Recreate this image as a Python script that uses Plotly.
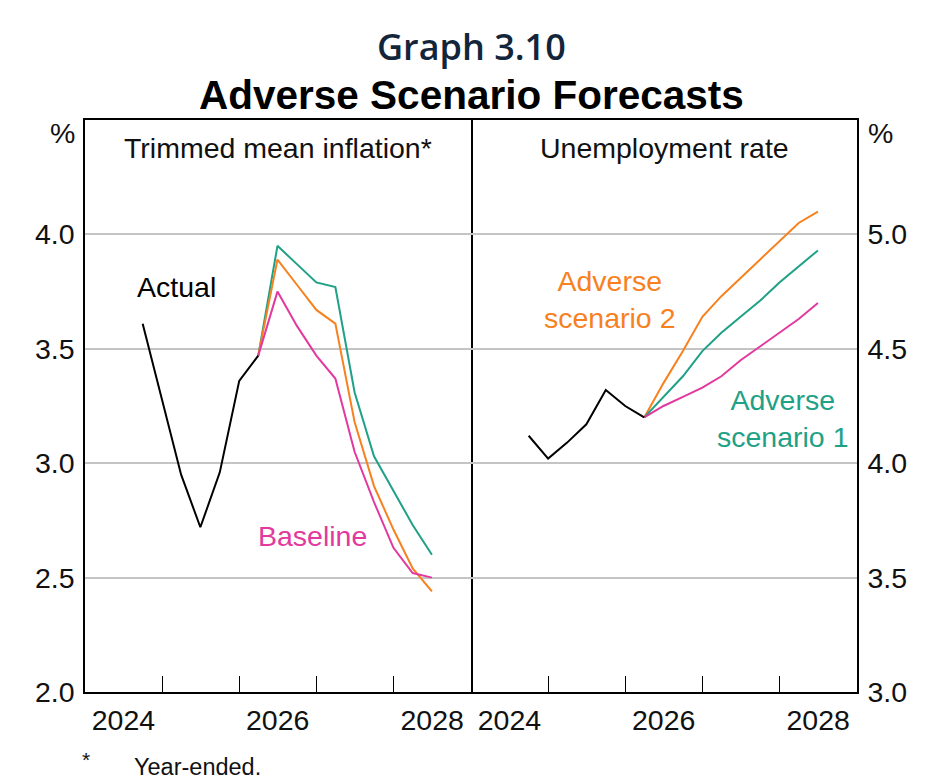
import plotly.graph_objects as go

# ---------------- DATA ----------------
actual_dates = ["2024-09-30", "2024-12-31", "2025-03-31", "2025-06-30",
                "2025-09-30", "2025-12-31", "2026-03-31"]
forecast_dates = ["2026-03-31", "2026-06-30", "2026-09-30", "2026-12-31",
                  "2027-03-31", "2027-06-30", "2027-09-30", "2027-12-31",
                  "2028-03-31", "2028-06-30"]

infl_actual = [3.61, 3.28, 2.95, 2.72, 2.96, 3.36, 3.47]
infl_baseline = [3.47, 3.75, 3.60, 3.47, 3.37, 3.05, 2.83, 2.63, 2.52, 2.50]
infl_adverse1 = [3.47, 3.95, 3.87, 3.79, 3.77, 3.31, 3.03, 2.88, 2.73, 2.60]
infl_adverse2 = [3.47, 3.89, 3.78, 3.67, 3.61, 3.18, 2.90, 2.71, 2.54, 2.44]

unemp_actual = [4.12, 4.02, 4.09, 4.17, 4.32, 4.25, 4.20]
unemp_baseline = [4.20, 4.25, 4.29, 4.33, 4.38, 4.45, 4.51, 4.57, 4.63, 4.70]
unemp_adverse1 = [4.20, 4.29, 4.38, 4.49, 4.57, 4.64, 4.71, 4.79, 4.86, 4.93]
unemp_adverse2 = [4.20, 4.35, 4.49, 4.64, 4.73, 4.81, 4.89, 4.97, 5.05, 5.10]

year_tick_positions = ["2024-07-01", "2026-07-01", "2028-07-01"]
year_tick_labels = ["2024", "2026", "2028"]
year_boundaries = ["2025-01-01", "2026-01-01", "2027-01-01", "2028-01-01"]
left_ticks = [2.0, 2.5, 3.0, 3.5, 4.0]
right_ticks = [3.0, 3.5, 4.0, 4.5, 5.0]

# ---------------- STYLE ----------------
BLACK = "#000000"
ORANGE = "#F7811E"
TEAL = "#1FA187"
MAGENTA = "#E2399E"
FONT = "Liberation Sans, Arial, sans-serif"
FS = 28.5

fig = go.Figure()

def add(x, y, color, xa, ya):
    fig.add_trace(go.Scatter(x=x, y=y, mode="lines",
                             line=dict(color=color, width=2),
                             xaxis=xa, yaxis=ya, showlegend=False,
                             hoverinfo="skip"))

# left panel
add(forecast_dates, infl_adverse1, TEAL, "x", "y")
add(forecast_dates, infl_adverse2, ORANGE, "x", "y")
add(forecast_dates, infl_baseline, MAGENTA, "x", "y")
add(actual_dates, infl_actual, BLACK, "x", "y")

# right panel
add(forecast_dates, unemp_adverse2, ORANGE, "x2", "y2")
add(forecast_dates, unemp_adverse1, TEAL, "x2", "y2")
add(forecast_dates, unemp_baseline, MAGENTA, "x2", "y2")
add(actual_dates, unemp_actual, BLACK, "x2", "y2")

def xaxis(domain, anchor):
    return dict(domain=domain, anchor=anchor, type="date",
                range=["2024-01-01", "2029-01-01"],
                tickmode="array", tickvals=year_tick_positions,
                ticktext=year_tick_labels, ticks="",
                ticklabelstandoff=2,
                tickfont=dict(family=FONT, size=FS, color="#111111"),
                showgrid=False, zeroline=False,
                showline=True, mirror=True, linecolor=BLACK, linewidth=1.5,
                minor=dict(tickmode="array", tickvals=year_boundaries,
                           ticks="inside", ticklen=16, tickcolor=BLACK,
                           tickwidth=1, showgrid=False),
                fixedrange=True)

def yaxis(rng, ticks, anchor, side, mirror):
    return dict(domain=[0, 1], anchor=anchor, side=side, range=rng,
                tickmode="array", tickvals=ticks,
                ticktext=[f"{t:.1f}" for t in ticks], ticks="",
                ticklabelstandoff=3,
                tickfont=dict(family=FONT, size=FS, color="#111111"),
                showgrid=True, gridcolor="#c4c4c4", gridwidth=1.5,
                zeroline=False,
                showline=True, mirror=mirror, linecolor=BLACK, linewidth=1.5,
                fixedrange=True)

fig.update_layout(
    width=933, height=780,
    margin=dict(l=85, r=76, t=120, b=88),
    paper_bgcolor="white", plot_bgcolor="white",
    xaxis=xaxis([0, 0.5], "y"),
    xaxis2=xaxis([0.5, 1], "y2"),
    yaxis=yaxis([2.0, 4.5], left_ticks, "x", "left", True),
    yaxis2=yaxis([3.0, 5.5], right_ticks, "x2", "right", False),
    showlegend=False,
)

ann = []
# titles
ann.append(dict(text="Graph 3.10", xref="paper", yref="paper", x=0.5, y=1.128,
                xanchor="center", yanchor="middle", showarrow=False,
                font=dict(family="Open Sans", size=36, color="#13253a", weight=600)))
ann.append(dict(text="<b>Adverse Scenario Forecasts</b>", xref="paper", yref="paper",
                x=0.5, y=1.044, xanchor="center", yanchor="middle", showarrow=False,
                font=dict(family=FONT, size=40.5, color="#000000")))
# panel titles
ann.append(dict(text="Trimmed mean inflation*", xref="paper", yref="paper", x=0.25,
                y=0.951, xanchor="center", yanchor="middle", showarrow=False,
                font=dict(family=FONT, size=FS, color="#111111")))
ann.append(dict(text="Unemployment rate", xref="paper", yref="paper", x=0.75,
                y=0.951, xanchor="center", yanchor="middle", showarrow=False,
                font=dict(family=FONT, size=FS, color="#111111")))
# percent units
ann.append(dict(text="%", xref="paper", yref="paper", x=-0.01, y=0.977,
                xanchor="right", yanchor="middle", showarrow=False,
                font=dict(family=FONT, size=FS, color="#111111")))
ann.append(dict(text="%", xref="paper", yref="paper", x=1.012, y=0.977,
                xanchor="left", yanchor="middle", showarrow=False,
                font=dict(family=FONT, size=FS, color="#111111")))
# series labels
ann.append(dict(text="Actual", xref="x", yref="y", x="2025-03-08", y=3.77,
                xanchor="center", yanchor="middle", showarrow=False,
                font=dict(family=FONT, size=FS, color="#000000")))
ann.append(dict(text="Baseline", xref="x", yref="y", x="2026-12-15", y=2.68,
                xanchor="center", yanchor="middle", showarrow=False,
                font=dict(family=FONT, size=FS, color=MAGENTA)))
ann.append(dict(text="Adverse<br>scenario 2", xref="x2", yref="y2", x="2025-10-20",
                y=4.715, xanchor="center", yanchor="middle", showarrow=False,
                font=dict(family=FONT, size=FS, color=ORANGE)))
ann.append(dict(text="Adverse<br>scenario 1", xref="x2", yref="y2", x="2028-01-15",
                y=4.195, xanchor="center", yanchor="middle", showarrow=False,
                font=dict(family=FONT, size=FS, color=TEAL)))
# footnote
ann.append(dict(text="*", xref="paper", yref="paper", x=0.001, y=-0.118,
                xanchor="center", yanchor="middle", showarrow=False,
                font=dict(family=FONT, size=21, color="#111111")))
ann.append(dict(text="Year-ended.", xref="paper", yref="paper", x=0.061, y=-0.131,
                xanchor="left", yanchor="middle", showarrow=False,
                font=dict(family=FONT, size=23.5, color="#111111")))

fig.update_layout(annotations=ann)
fig.write_html("out.html")
